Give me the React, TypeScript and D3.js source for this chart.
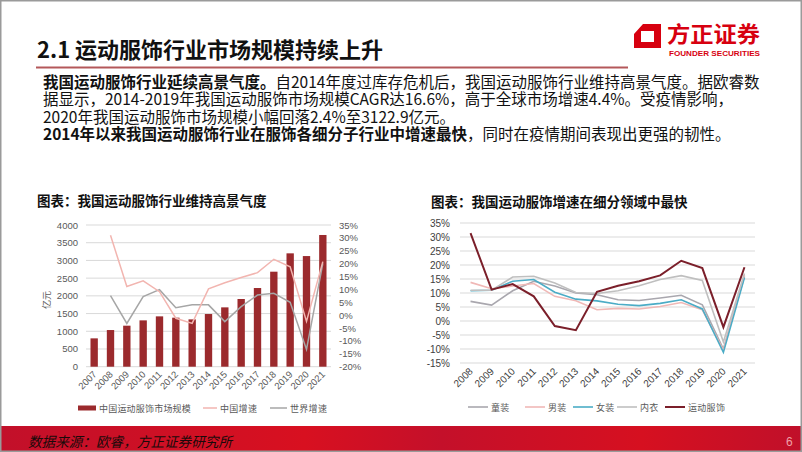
import React from 'react';
import * as d3 from 'd3';

const years = ['2007','2008','2009','2010','2011','2012','2013','2014','2015','2016','2017','2018','2019','2020','2021'];
const marketSize = [800,1035,1158,1308,1421,1384,1336,1487,1675,1911,2221,2682,3200,3123,3718];
const chinaGrowth: (number|null)[] = [null,31.0,11.1,13.3,9.1,-1.2,-3.2,10.2,12.6,14.6,16.5,21.7,18.8,-2.4,20.8];
const worldGrowth: (number|null)[] = [null,7.6,-3.2,7.2,9.9,2.9,4.0,4.0,-2.5,3.3,7.8,8.5,5.0,-13.3,20.1];
const leftTicks = [0,500,1000,1500,2000,2500,3000,3500,4000];
const rightTicks = [-20,-15,-10,-5,0,5,10,15,20,25,30,35];

const segYears = ['2008','2009','2010','2011','2012','2013','2014','2015','2016','2017','2018','2019','2020','2021'];
const kids = [7.0,5.7,10.8,14.2,12.5,10.0,9.4,7.6,7.3,8.2,9.2,5.8,-10.0,16.0];
const men = [13.8,11.5,12.5,13.4,8.8,7.2,4.0,4.5,4.3,5.2,6.6,4.0,-10.5,16.5];
const women = [10.8,11.0,14.2,14.8,10.3,7.8,7.2,6.0,5.5,6.3,7.6,4.3,-11.2,15.5];
const underwear = [11.0,11.0,15.7,16.0,13.6,10.2,9.8,10.8,12.6,14.8,16.2,14.5,-7.5,17.0];
const sports = [31.4,11.2,13.2,8.8,-1.8,-3.3,10.4,12.6,14.2,16.3,21.5,18.9,-2.2,19.2];
const segTicks = [-15,-10,-5,0,5,10,15,20,25,30,35];

const CJK = '"Noto Sans CJK SC", "Noto Sans", sans-serif';
const LAT = '"Liberation Sans", Arial, sans-serif';

export default function App() {
  // Left chart scales
  const xL = d3.scaleBand<string>().domain(years).range([86, 331]).padding(0);
  const cxL = (y: string) => (xL(y) as number) + xL.bandwidth() / 2;
  const yL = d3.scaleLinear().domain([0, 4000]).range([366.7, 225]);
  const yR = d3.scaleLinear().domain([-20, 35]).range([366.7, 225]);
  const barW = xL.bandwidth() * 0.45;
  const lineL = d3.line<number|null>()
    .defined(d => d != null)
    .x((_, i) => cxL(years[i]))
    .y(d => yR(d as number));

  // Right chart scales
  const xS = d3.scaleBand<string>().domain(segYears).range([460, 755]).padding(0);
  const cxS = (y: string) => (xS(y) as number) + xS.bandwidth() / 2;
  const yS = d3.scaleLinear().domain([-15, 35]).range([363, 223]);
  const lineS = d3.line<number>()
    .x((_, i) => cxS(segYears[i]))
    .y(d => yS(d));

  const segSeries = [
    { name: '童装', data: kids, color: '#a9a7ae', w: 1.6 },
    { name: '男装', data: men, color: '#f0b8b6', w: 1.6 },
    { name: '女装', data: women, color: '#4bacc6', w: 1.6 },
    { name: '内衣', data: underwear, color: '#bfbfbf', w: 1.6 },
    { name: '运动服饰', data: sports, color: '#7b1f2a', w: 2 },
  ];
  const segLegendX = [468, 525, 573, 617, 665];

  return (
    <svg width={802} height={452} style={{ position: 'absolute', left: 0, top: 0 }} xmlns="http://www.w3.org/2000/svg">
      <defs>
        <linearGradient id="foot" x1="0" x2="1" y1="0" y2="0">
          <stop offset="0" stopColor="#c2102a" />
          <stop offset="0.38" stopColor="#d81020" />
          <stop offset="0.55" stopColor="#c4102a" />
          <stop offset="0.8" stopColor="#d61020" />
          <stop offset="1" stopColor="#c0102a" />
        </linearGradient>
      </defs>
      <rect x={0} y={0} width={802} height={452} fill="#ffffff" />

      {/* Title */}
      <text x={37} y={58} fontFamily={CJK} fontWeight={700} fontSize={22} fill="#111">2.1 运动服饰行业市场规模持续上升</text>
      <line x1={36} x2={628} y1={67.5} y2={67.5} stroke="#b4585a" strokeWidth={2} />

      {/* Logo */}
      <path d="M643,24 L661,24 L661,48 L634,48 L634,34 Z M641,31 L641,42 L654,42 L654,31 Z" fill="#d7000f" fillRule="evenodd" />
      <text x={667} y={42} fontFamily={CJK} fontWeight={700} fontSize={22} fill="#d7000f" textLength={93} lengthAdjust="spacingAndGlyphs">方正证券</text>
      <text x={669} y={56} fontFamily={LAT} fontWeight={700} fontSize={7.5} fill="#d7000f" textLength={91} lengthAdjust="spacingAndGlyphs">FOUNDER SECURITIES</text>

      {/* Paragraph */}
      <g fontFamily={CJK} fontSize={15.5} fill="#111">
        <text x={43} y={87.5}><tspan fontWeight={700}>我国运动服饰行业延续高景气度。</tspan>自2014年度过库存危机后，我国运动服饰行业维持高景气度。据欧睿数</text>
        <text x={43} y={105}>据显示，2014-2019年我国运动服饰市场规模CAGR达16.6%，高于全球市场增速4.4%。受疫情影响，</text>
        <text x={43} y={122.5}>2020年我国运动服饰市场规模小幅回落2.4%至3122.9亿元。</text>
        <text x={43} y={140}><tspan fontWeight={700}>2014年以来我国运动服饰行业在服饰各细分子行业中增速最快</tspan>，同时在疫情期间表现出更强的韧性。</text>
      </g>

      {/* Left chart */}
      <text x={37} y={206} fontFamily={CJK} fontWeight={700} fontSize={13.5} fill="#111">图表：我国运动服饰行业维持高景气度</text>
      {leftTicks.map(t => (
        <line key={'gl' + t} x1={86} x2={331} y1={yL(t)} y2={yL(t)} stroke="#d9d9d9" strokeWidth={1} />
      ))}
      {leftTicks.map(t => (
        <text key={'tl' + t} x={78} y={yL(t) + 3.5} textAnchor="end" fontFamily={LAT} fontSize={9.5} fill="#595959">{t}</text>
      ))}
      {rightTicks.map(t => (
        <text key={'tr' + t} x={339} y={yR(t) + 3.5} fontFamily={LAT} fontSize={9.5} fill="#595959">{t + '%'}</text>
      ))}
      <text transform="translate(50,300) rotate(-90)" textAnchor="middle" fontFamily={CJK} fontSize={9} fill="#595959">亿元</text>
      {marketSize.map((v, i) => (
        <rect key={'b' + i} x={cxL(years[i]) - barW / 2} y={yL(v)} width={barW} height={yL(0) - yL(v)} fill="#9b2a2d" />
      ))}
      <path d={lineL(worldGrowth) || ''} fill="none" stroke="#a6a6a6" strokeWidth={1.5} />
      <path d={lineL(chinaGrowth) || ''} fill="none" stroke="#f2b5b0" strokeWidth={1.5} />
      {years.map(y => (
        <text key={'xl' + y} transform={`translate(${cxL(y) + 3},${375}) rotate(-45)`} textAnchor="end" fontFamily={LAT} fontSize={9.5} fill="#595959">{y}</text>
      ))}
      {/* Left legend */}
      <rect x={78} y={405.5} width={18} height={5} fill="#9b2a2d" />
      <text x={99} y={411.5} fontFamily={CJK} fontSize={9} fill="#595959" letterSpacing={0.2}>中国运动服饰市场规模</text>
      <line x1={203} x2={217} y1={408} y2={408} stroke="#f2b5b0" strokeWidth={1.5} />
      <text x={220} y={411.5} fontFamily={CJK} fontSize={9} fill="#595959" letterSpacing={0.3}>中国增速</text>
      <line x1={270} x2={287} y1={408} y2={408} stroke="#a6a6a6" strokeWidth={1.5} />
      <text x={290} y={411.5} fontFamily={CJK} fontSize={9} fill="#595959" letterSpacing={0.3}>世界增速</text>

      {/* Right chart */}
      <text x={431} y={206.5} fontFamily={CJK} fontWeight={700} fontSize={13.5} fill="#111">图表：我国运动服饰增速在细分领域中最快</text>
      {segTicks.map(t => (
        <line key={'gs' + t} x1={460} x2={755} y1={yS(t)} y2={yS(t)} stroke="#d9d9d9" strokeWidth={1} />
      ))}
      {segTicks.map(t => (
        <text key={'ts' + t} x={450} y={yS(t) + 3.5} textAnchor="end" fontFamily={LAT} fontSize={10} fill="#404040">{t + '%'}</text>
      ))}
      {segSeries.map(s => (
        <path key={'s' + s.name} d={lineS(s.data) || ''} fill="none" stroke={s.color} strokeWidth={s.w} />
      ))}
      {segYears.map(y => (
        <text key={'xs' + y} transform={`translate(${cxS(y) + 3},${372}) rotate(-45)`} textAnchor="end" fontFamily={LAT} fontSize={10} fill="#404040">{y}</text>
      ))}
      {segSeries.map((s, i) => (
        <g key={'lg' + s.name}>
          <line x1={segLegendX[i]} x2={segLegendX[i] + 20} y1={407} y2={407} stroke={s.color} strokeWidth={s.w} />
          <text x={segLegendX[i] + 23} y={410.5} fontFamily={CJK} fontSize={9} fill="#595959" letterSpacing={0.3}>{s.name}</text>
        </g>
      ))}

      {/* Footer */}
      <rect x={0} y={426} width={802} height={26} fill="url(#foot)" />
      <text x={28} y={447} fontFamily={CJK} fontStyle="italic" fontSize={14} fill="#1a0a0a" textLength={204} lengthAdjust="spacingAndGlyphs">数据来源：欧睿，方正证券研究所</text>
      <text x={786} y={446} fontFamily={LAT} fontSize={12} fill="#f0a0a8">6</text>

      <rect x={0.75} y={0.75} width={800.5} height={450.5} fill="none" stroke="#9a9a9a" strokeWidth={1.5} />
    </svg>
  );
}
